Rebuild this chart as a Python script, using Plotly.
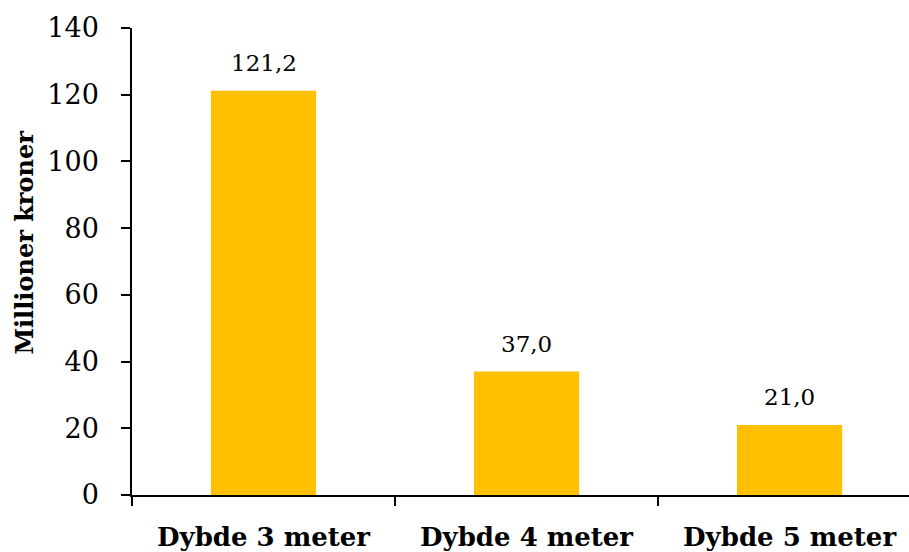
import plotly.graph_objects as go

# Cost per dredging depth, million NOK
categories = ["Dybde 3 meter", "Dybde 4 meter", "Dybde 5 meter"]
values = [121.2, 37.0, 21.0]
y_ticks = [0, 20, 40, 60, 80, 100, 120, 140]

SERIF = "DejaVu Serif"

def fmt(v):
    return f"{v:.1f}".replace(".", ",")

fig = go.Figure()
fig.add_trace(go.Bar(
    x=categories,
    y=values,
    width=0.4,
    marker=dict(color="#FFC000", line=dict(width=0)),
    hoverinfo="skip",
))

for c, v in zip(categories, values):
    fig.add_annotation(
        x=c, y=v, text=fmt(v), showarrow=False,
        yanchor="bottom", yshift=13,
        font=dict(family=SERIF, size=23, color="#000000"),
    )

fig.add_annotation(
    xref="paper", yref="paper", x=-0.138, y=0.54,
    text="<b>Millioner kroner</b>", textangle=-90, showarrow=False,
    font=dict(family=SERIF, size=24, color="#000000"),
    xanchor="center", yanchor="middle",
)

fig.update_layout(
    width=909, height=552,
    margin=dict(l=132, r=0, t=28, b=55, pad=0),
    paper_bgcolor="white", plot_bgcolor="white",
    showlegend=False,
    bargap=0.6,
    xaxis=dict(
        type="category",
        range=[-0.5, 2.454],
        tickson="boundaries",
        ticks="outside", ticklen=9, tickwidth=1.5, tickcolor="#000000",
        showline=True, linecolor="#000000", linewidth=1.5,
        showgrid=False, zeroline=False,
        tickfont=dict(family=SERIF, size=26, color="#000000", weight="bold"),
        ticklabelstandoff=18,
    ),
    yaxis=dict(
        range=[0, 140],
        tickvals=y_ticks,
        ticks="outside", ticklen=9, tickwidth=1.5, tickcolor="#000000",
        showline=True, linecolor="#000000", linewidth=1.5,
        showgrid=False, zeroline=False,
        tickfont=dict(family=SERIF, size=27, color="#000000"),
        ticklabelstandoff=17,
    ),
)

fig.write_html("out.html")
